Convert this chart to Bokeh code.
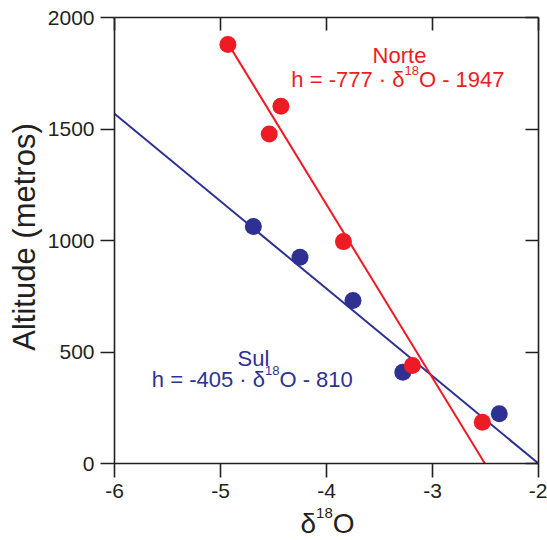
import math
from bokeh.plotting import figure
from bokeh.models import Label, LinearAxis, FixedTicker, Range1d
from bokeh.embed import file_html
from bokeh.resources import INLINE

# ---------------- data ----------------
norte_d18o = [-4.93, -4.43, -4.54, -3.84, -3.19, -2.53]
norte_alt = [1879, 1602, 1478, 995, 439, 185]
sul_d18o = [-4.69, -4.25, -3.75, -3.28, -2.37]
sul_alt = [1063, 925, 731, 409, 223]

# fitted lines as drawn (endpoints)
norte_fit_x = [-4.93, -2.506]
norte_fit_y = [1884, 0]
sul_fit_x = [-6.0, -2.0]
sul_fit_y = [1568, 0]

x_ticks = [-6, -5, -4, -3, -2]
y_ticks = [0, 500, 1000, 1500, 2000]
x_tick_labels = ["-6", "-5", "-4", "-3", "-2"]
y_tick_labels = ["0", "500", "1000", "1500", "2000"]

RED = "#ED1C24"
BLUE = "#2E3192"
INK = "#231F20"
FONT = "Liberation Sans"

# ---------------- layout ----------------
W, H = 547, 540
L, R, T, B = 114, 9, 17, 77          # where the data box sits on the canvas
X0, X1 = -6, -2
Y0, Y1 = 0, 2000
FW = W - L - R
FH = H - T - B
UX = (X1 - X0) / FW                  # data units per pixel
UY = (Y1 - Y0) / FH


def dx(px):
    return X0 + (px - L) * UX


def dy(py):
    return Y0 + (T + FH - py) * UY


p = figure(width=W, height=H,
           x_range=Range1d(X0 - L * UX, X1 + R * UX),
           y_range=Range1d(Y0 - B * UY, Y1 + T * UY),
           x_axis_type=None, y_axis_type=None,
           output_backend="svg", toolbar_location=None,
           min_border=0, min_border_left=0, min_border_right=0,
           min_border_top=0, min_border_bottom=0)
p.outline_line_color = None
p.background_fill_color = "white"
p.border_fill_color = "white"


def style(ax, ticks, labels, tick_out):
    ax.ticker = FixedTicker(ticks=ticks)
    ax.major_tick_out = tick_out
    ax.major_tick_in = 0
    ax.minor_tick_line_color = None
    ax.axis_line_color = INK
    ax.axis_line_width = 1.6
    ax.major_tick_line_color = INK
    ax.major_tick_line_width = 1.6
    ax.major_label_text_font = FONT
    ax.major_label_text_font_size = "21px"
    ax.major_label_text_color = INK
    ax.major_label_standoff = 6
    if labels is None:
        ax.major_label_overrides = {t: "" for t in ticks}
    else:
        ax.major_label_overrides = dict(zip(ticks, labels))


bottom = LinearAxis(fixed_location=Y0, bounds=(X0, X1))
style(bottom, x_ticks, x_tick_labels, 14)
top = LinearAxis(fixed_location=Y1, bounds=(X0, X1))
style(top, x_ticks, None, 13)
left = LinearAxis(fixed_location=X0, bounds=(Y0, Y1))
style(left, y_ticks, y_tick_labels, 14)
right = LinearAxis(fixed_location=X1, bounds=(Y0, Y1))
style(right, y_ticks, None, 13)
p.add_layout(bottom, "below")
p.add_layout(top, "below")
p.add_layout(left, "left")
p.add_layout(right, "left")

# lines
p.line(sul_fit_x, sul_fit_y, line_color=BLUE, line_width=2)
p.line(norte_fit_x, norte_fit_y, line_color=RED, line_width=2)

# points
p.scatter(sul_d18o, sul_alt, size=17, marker="circle", fill_color=BLUE, line_color=None)
p.scatter(norte_d18o, norte_alt, size=17, marker="circle", fill_color=RED, line_color=None)

SHIFT = 0.36   # renderer places the alphabetic baseline this many em lower


def lab(px, py, text, size, color=INK, align="left", angle=0.0):
    if angle == 0.0:
        py = py - SHIFT * size
    else:
        px = px - SHIFT * size
    p.add_layout(Label(x=dx(px), y=dy(py), text=text, text_font=FONT,
                       text_font_size=f"{size}px", text_color=color,
                       text_align=align, text_baseline="alphabetic", angle=angle))


def sup_text(anchor_px, base_py, left_txt, right_txt, size, sup_size, raise_px, color):
    sup_w = 2 * 0.556 * sup_size
    lab(anchor_px, base_py, left_txt, size, color, "right")
    lab(anchor_px, base_py - raise_px + SHIFT * (sup_size - size), "18", sup_size, color, "left")
    lab(anchor_px + sup_w, base_py, right_txt, size, color, "left")


# axis titles
lab(35, 236.5, "Altitude (metros)", 31, INK, "center", angle=math.pi / 2)
sup_text(315.6, 533, "δ", "O", 28, 15, 10, INK)

# Norte annotation
lab(399, 63.3, "Norte", 22, RED, "center")
sup_text(404, 87.3, "h = -777 · δ", "O - 1947", 22, 13, 9, RED)

# Sul annotation
lab(253, 366, "Sul", 22, BLUE, "center")
sup_text(264.5, 386.7, "h = -405 · δ", "O - 810", 22, 13, 9, BLUE)

open("out.html", "w").write(file_html(p, INLINE))
